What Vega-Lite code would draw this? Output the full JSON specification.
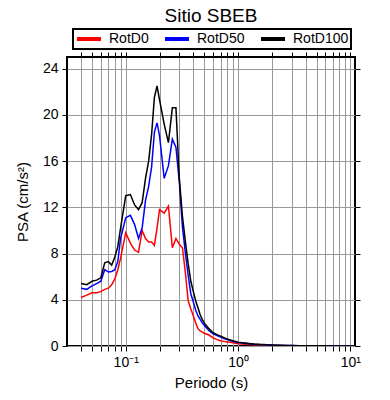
{
 "$schema": "https://vega.github.io/schema/vega-lite/v6.json",
 "width": 288, "height": 289,
 "autosize": {"type": "none"},
 "padding": {"left": 67, "top": 57, "right": 35, "bottom": 54},
 "config": {"font": "Liberation Sans", "view": {"stroke": "black", "strokeWidth": 2}},
 "title": {"text": "Sitio SBEB", "fontSize": 19, "fontWeight": "normal", "color": "black", "anchor": "middle", "frame": "group", "offset": 2},
 "data": {"values": [
  {"T":0.04,"RotD0":4.2,"RotD50":5.0,"RotD100":5.4},
  {"T":0.045,"RotD0":4.4,"RotD50":4.9,"RotD100":5.3},
  {"T":0.05,"RotD0":4.6,"RotD50":5.2,"RotD100":5.6},
  {"T":0.055,"RotD0":4.6,"RotD50":5.4,"RotD100":5.7},
  {"T":0.06,"RotD0":4.7,"RotD50":5.6,"RotD100":5.9},
  {"T":0.065,"RotD0":4.9,"RotD50":6.6,"RotD100":7.2},
  {"T":0.07,"RotD0":5.0,"RotD50":6.4,"RotD100":7.3},
  {"T":0.075,"RotD0":5.3,"RotD50":6.45,"RotD100":7.0},
  {"T":0.08,"RotD0":5.8,"RotD50":6.6,"RotD100":7.7},
  {"T":0.085,"RotD0":6.6,"RotD50":7.3,"RotD100":8.6},
  {"T":0.09,"RotD0":7.6,"RotD50":9.3,"RotD100":10.2},
  {"T":0.1,"RotD0":9.8,"RotD50":11.1,"RotD100":13.0},
  {"T":0.11,"RotD0":8.9,"RotD50":11.3,"RotD100":13.1},
  {"T":0.12,"RotD0":8.3,"RotD50":10.5,"RotD100":12.2},
  {"T":0.13,"RotD0":8.1,"RotD50":9.3,"RotD100":11.8},
  {"T":0.14,"RotD0":10.0,"RotD50":10.2,"RotD100":12.4},
  {"T":0.15,"RotD0":9.3,"RotD50":12.6,"RotD100":14.5},
  {"T":0.16,"RotD0":9.0,"RotD50":13.8,"RotD100":16.0},
  {"T":0.17,"RotD0":9.0,"RotD50":15.5,"RotD100":18.3},
  {"T":0.18,"RotD0":8.7,"RotD50":18.5,"RotD100":21.5},
  {"T":0.19,"RotD0":10.2,"RotD50":19.3,"RotD100":22.5},
  {"T":0.2,"RotD0":11.8,"RotD50":18.2,"RotD100":21.3},
  {"T":0.22,"RotD0":11.5,"RotD50":14.5,"RotD100":19.2},
  {"T":0.24,"RotD0":12.1,"RotD50":15.6,"RotD100":17.6},
  {"T":0.26,"RotD0":8.5,"RotD50":17.9,"RotD100":20.6},
  {"T":0.28,"RotD0":9.3,"RotD50":17.2,"RotD100":20.6},
  {"T":0.3,"RotD0":8.8,"RotD50":14.2,"RotD100":14.5},
  {"T":0.32,"RotD0":8.5,"RotD50":10.3,"RotD100":11.2},
  {"T":0.34,"RotD0":6.3,"RotD50":8.0,"RotD100":9.0},
  {"T":0.36,"RotD0":3.9,"RotD50":6.1,"RotD100":7.1},
  {"T":0.38,"RotD0":3.2,"RotD50":4.5,"RotD100":5.6},
  {"T":0.4,"RotD0":2.6,"RotD50":3.8,"RotD100":4.7},
  {"T":0.42,"RotD0":2.0,"RotD50":3.1,"RotD100":3.9},
  {"T":0.44,"RotD0":1.5,"RotD50":2.6,"RotD100":3.3},
  {"T":0.46,"RotD0":1.3,"RotD50":2.3,"RotD100":2.7},
  {"T":0.48,"RotD0":1.2,"RotD50":2.0,"RotD100":2.3},
  {"T":0.5,"RotD0":1.1,"RotD50":1.8,"RotD100":2.0},
  {"T":0.55,"RotD0":0.95,"RotD50":1.35,"RotD100":1.5},
  {"T":0.6,"RotD0":0.7,"RotD50":1.05,"RotD100":1.15},
  {"T":0.65,"RotD0":0.55,"RotD50":0.9,"RotD100":0.98},
  {"T":0.7,"RotD0":0.45,"RotD50":0.78,"RotD100":0.85},
  {"T":0.75,"RotD0":0.4,"RotD50":0.64,"RotD100":0.72},
  {"T":0.8,"RotD0":0.35,"RotD50":0.55,"RotD100":0.6},
  {"T":0.85,"RotD0":0.32,"RotD50":0.48,"RotD100":0.52},
  {"T":0.9,"RotD0":0.28,"RotD50":0.4,"RotD100":0.45},
  {"T":0.95,"RotD0":0.24,"RotD50":0.35,"RotD100":0.4},
  {"T":1.0,"RotD0":0.2,"RotD50":0.3,"RotD100":0.33},
  {"T":1.1,"RotD0":0.17,"RotD50":0.25,"RotD100":0.28},
  {"T":1.2,"RotD0":0.14,"RotD50":0.21,"RotD100":0.24},
  {"T":1.3,"RotD0":0.12,"RotD50":0.18,"RotD100":0.2},
  {"T":1.4,"RotD0":0.1,"RotD50":0.15,"RotD100":0.17},
  {"T":1.5,"RotD0":0.09,"RotD50":0.13,"RotD100":0.15},
  {"T":1.6,"RotD0":0.08,"RotD50":0.11,"RotD100":0.13},
  {"T":1.7,"RotD0":0.07,"RotD50":0.1,"RotD100":0.12},
  {"T":1.8,"RotD0":0.06,"RotD50":0.09,"RotD100":0.1},
  {"T":1.9,"RotD0":0.055,"RotD50":0.08,"RotD100":0.09},
  {"T":2.0,"RotD0":0.05,"RotD50":0.07,"RotD100":0.08},
  {"T":2.2,"RotD0":0.045,"RotD50":0.06,"RotD100":0.07},
  {"T":2.4,"RotD0":0.04,"RotD50":0.05,"RotD100":0.06},
  {"T":2.6,"RotD0":0.035,"RotD50":0.045,"RotD100":0.05},
  {"T":2.8,"RotD0":0.03,"RotD50":0.04,"RotD100":0.045},
  {"T":3.0,"RotD0":0.027,"RotD50":0.035,"RotD100":0.04},
  {"T":3.5,"RotD0":0.02,"RotD50":0.028,"RotD100":0.032},
  {"T":4.0,"RotD0":0.016,"RotD50":0.022,"RotD100":0.025},
  {"T":5.0,"RotD0":0.011,"RotD50":0.015,"RotD100":0.017},
  {"T":6.0,"RotD0":0.008,"RotD50":0.011,"RotD100":0.013},
  {"T":7.0,"RotD0":0.006,"RotD50":0.009,"RotD100":0.01},
  {"T":8.0,"RotD0":0.005,"RotD50":0.007,"RotD100":0.008},
  {"T":9.0,"RotD0":0.004,"RotD50":0.006,"RotD100":0.007},
  {"T":10.0,"RotD0":0.004,"RotD50":0.005,"RotD100":0.006}
 ]},
 "transform": [{"fold": ["RotD0", "RotD50", "RotD100"], "as": ["serie", "psa"]}],
 "layer": [
  {
   "mark": {"type": "line", "strokeWidth": 1.5, "clip": true},
   "encoding": {
    "x": {"field": "T", "type": "quantitative",
      "scale": {"type": "log", "domain": [0.03, 11], "nice": false},
      "axis": {"orient": "bottom", "values": [0.04,0.05,0.06,0.07,0.08,0.09,0.1,0.2,0.3,0.4,0.5,0.6,0.7,0.8,0.9,1,2,3,4,5,6,7,8,9,10],
        "labelExpr": "datum.value === 0.1 ? '10⁻¹' : datum.value === 1 ? '10⁰' : datum.value === 10 ? '10¹' : ''",
        "title": "Periodo (s)", "titleFontSize": 15, "titleFontWeight": "normal", "titleColor": "black",
        "labelFontSize": 14, "labelColor": "black", "labelOverlap": false, "labelFlush": false, "labelBound": false,
        "grid": true, "gridColor": "#999999", "gridWidth": 1, "domain": false,
        "tickColor": "black", "tickSize": 5, "labelPadding": 4, "titlePadding": 6}},
    "y": {"field": "psa", "type": "quantitative",
      "scale": {"domain": [0, 25], "nice": false},
      "axis": {"orient": "left", "values": [0,4,8,12,16,20,24],
        "title": "PSA (cm/s²)", "titleFontSize": 15, "titleFontWeight": "normal", "titleColor": "black",
        "labelFontSize": 14, "labelColor": "black",
        "grid": true, "gridColor": "#999999", "gridWidth": 1, "domain": false,
        "tickColor": "black", "tickSize": 5, "labelPadding": 4, "titlePadding": 12}},
    "color": {"field": "serie", "type": "nominal",
      "scale": {"domain": ["RotD0", "RotD50", "RotD100"], "range": ["#ff0000", "#0000ff", "#000000"]},
      "legend": {"orient": "none", "legendX": 6, "legendY": -28, "direction": "horizontal", "title": null,
        "symbolType": "M-2,0H2", "symbolStrokeWidth": 4, "symbolSize": 144, "symbolOffset": 6,
        "labelFontSize": 14, "labelColor": "black", "strokeColor": "black", "padding": 2,
        "columnPadding": 8, "labelOffset": 12,
        "encode": {"legend": {"update": {"strokeWidth": {"value": 2}}}}}}
   }
  },
  {
   "mark": {"type": "line", "opacity": 0},
   "encoding": {
    "x": {"field": "T", "type": "quantitative",
      "scale": {"type": "log", "domain": [0.03, 11], "nice": false},
      "axis": {"orient": "top", "values": [0.04,0.05,0.06,0.07,0.08,0.09,0.1,0.2,0.3,0.4,0.5,0.6,0.7,0.8,0.9,1,2,3,4,5,6,7,8,9,10],
        "labels": false, "title": null, "grid": false, "domain": false, "tickColor": "black", "tickSize": 5}},
    "y": {"field": "psa", "type": "quantitative",
      "scale": {"domain": [0, 25], "nice": false},
      "axis": {"orient": "right", "values": [0,4,8,12,16,20,24],
        "labels": false, "title": null, "grid": false, "domain": false, "tickColor": "black", "tickSize": 5}},
    "detail": {"field": "serie"}
   }
  }
 ],
 "resolve": {"axis": {"x": "independent", "y": "independent"}}
}
